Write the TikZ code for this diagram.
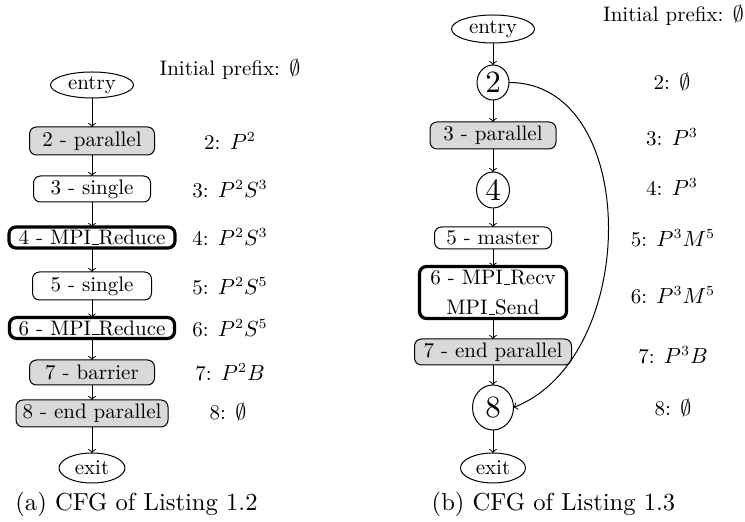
\documentclass[tikz,border=0pt]{standalone}
\usetikzlibrary{shapes.geometric}
\newcommand\mpiusc{\leavevmode\kern.06em\vbox{\hrule width.3em}}
\newcommand\bigdigit[1]{\scalebox{1.55}{\fontsize{10}{12}\selectfont #1}}
\begin{document}
\begin{tikzpicture}[x=0.5pt,y=-0.5pt,
  every node/.style={inner sep=0pt, outer sep=0pt},
  txt/.style={font=\fontsize{10.5}{15}\selectfont},
  blk/.style={txt, draw, rounded corners=3.5pt, line width=0.5pt, align=center},
  grayblk/.style={blk, fill=black!15},
  mpiblk/.style={blk, line width=1.6pt},
  oval/.style={txt, draw, ellipse, line width=0.5pt},
  circ/.style={draw, ellipse, line width=0.5pt},
  ann/.style={txt},
  captxt/.style={font=\fontsize{10}{12}\selectfont, anchor=base},
  arr/.style={->, line width=0.5pt}
]
\useasboundingbox (0,0) rectangle (745,522);

% ---------- left CFG ----------
\node[oval, minimum width=41.5pt, minimum height=13pt] (le) at (92,85) {entry};
\node[grayblk, minimum width=62.5pt, minimum height=14pt] (lp2) at (92,141) {2 - parallel};
\node[blk, minimum width=58.5pt, minimum height=13pt] (ls3) at (92,189) {3 - single};
\node[mpiblk, minimum width=83pt, minimum height=10.5pt] (lr4) at (92,237.5) {4 - MPI\mpiusc Reduce};
\node[blk, minimum width=59.5pt, minimum height=14pt] (ls5) at (92,286) {5 - single};
\node[mpiblk, minimum width=82.5pt, minimum height=10.5pt] (lr6) at (92,328) {6 - MPI\mpiusc Reduce};
\node[grayblk, minimum width=62.5pt, minimum height=12.5pt] (lb7) at (92,372.5) {7 - barrier};
\node[grayblk, minimum width=76pt, minimum height=13.5pt] (le8) at (92,413.5) {8 - end parallel};
\node[oval, minimum width=33pt, minimum height=15pt] (lx) at (92,468) {exit};

\draw[arr] (le) -- (lp2);
\draw[arr] (lp2) -- (ls3);
\draw[arr] (ls3) -- (lr4);
\draw[arr] (lr4) -- (ls5);
\draw[arr] (ls5) -- (lr6);
\draw[arr] (lr6) -- (lb7);
\draw[arr] (lb7) -- (le8);
\draw[arr] (le8) -- (lx);

\node[ann] (lai) at (230,69) {Initial prefix: $\emptyset$};
\node[ann] (la2) at (230,141) {2: $P^2$};
\node[ann] (la3) at (230,189) {3: $P^2S^3$};
\node[ann] (la4) at (230,237) {4: $P^2S^3$};
\node[ann] (la5) at (230,286) {5: $P^2S^5$};
\node[ann] (la6) at (230,328) {6: $P^2S^5$};
\node[ann] (la7) at (230,372) {7: $P^2B$};
\node[ann] (la8) at (228,412) {8: $\emptyset$};

\node[captxt] (capa) at (136.5,511) {\scalebox{1.23}{(a) CFG of Listing 1.2}};

% ---------- right CFG ----------
\node[oval, minimum width=41.5pt, minimum height=14pt] (re) at (493,29) {entry};
\node[circ, minimum width=16pt, minimum height=17.5pt] (rc2) at (493,82.5) {\bigdigit{2}};
\node[grayblk, minimum width=63pt, minimum height=13.5pt] (rp3) at (493,135.5) {3 - parallel};
\node[circ, minimum width=16.5pt, minimum height=18pt] (rc4) at (493,190) {\bigdigit{4}};
\node[blk, minimum width=58.5pt, minimum height=11pt] (rm5) at (493,238) {5 - master};
\node[mpiblk, minimum width=73.5pt, minimum height=26pt] (rmp6) at (493,292.5) {6 - MPI\mpiusc Recv\\MPI\mpiusc Send};
\node[grayblk, minimum width=78.5pt, minimum height=13pt] (rep7) at (493,352) {7 - end parallel};
\node[circ, minimum width=20.5pt, minimum height=22.5pt] (rc8) at (493,407.5) {\bigdigit{8}};
\node[oval, minimum width=32.5pt, minimum height=15pt] (rx) at (493,468) {exit};

\draw[arr] (re) -- (rc2);
\draw[arr] (rc2) -- (rp3);
\draw[arr] (rp3) -- (rc4);
\draw[arr] (rc4) -- (rm5);
\draw[arr] (rm5) -- (rmp6);
\draw[arr] (rmp6) -- (rep7);
\draw[arr] (rep7) -- (rc8);
\draw[arr] (rc8) -- (rx);
\draw[arr] (rc2.east) .. controls +(132,0) and +(127,-50) .. (rc8.east);

\node[ann] (rai) at (673.5,15) {Initial prefix: $\emptyset$};
\node[ann] (ra2) at (672,82) {2: $\emptyset$};
\node[ann] (ra3) at (672,137) {3: $P^3$};
\node[ann] (ra4) at (672,187) {4: $P^3$};
\node[ann] (ra5) at (673,238) {5: $P^3M^5$};
\node[ann] (ra6) at (673,295) {6: $P^3M^5$};
\node[ann] (ra7) at (673,355) {7: $P^3B$};
\node[ann] (ra8) at (673,408) {8: $\emptyset$};

\node[captxt] (capb) at (553.5,511) {\scalebox{1.23}{(b) CFG of Listing 1.3}};
\end{tikzpicture}
\end{document}
